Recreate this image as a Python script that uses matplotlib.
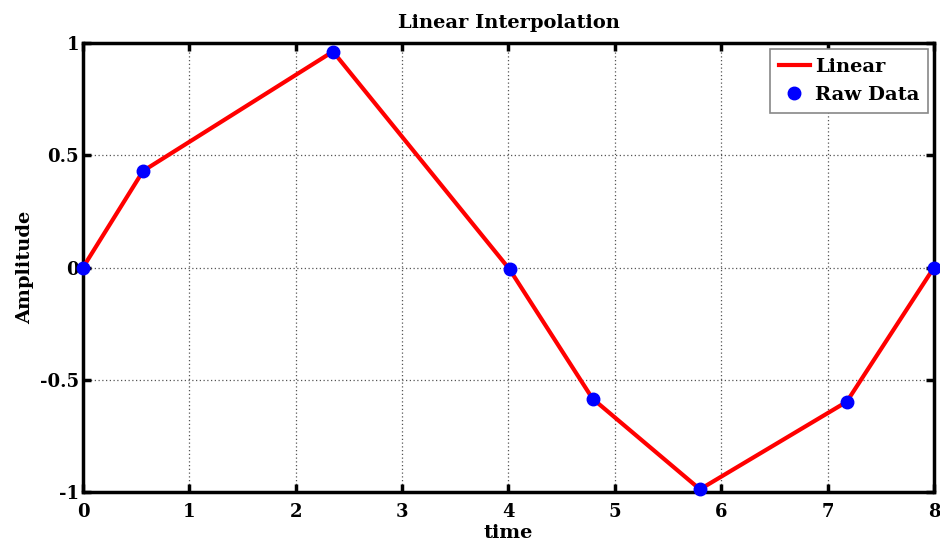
import matplotlib

matplotlib.use("Agg")
import matplotlib.pyplot as plt  # noqa: E402

# Sample points.
TIME = [0.0, 0.565, 2.35, 4.01, 4.79, 5.80, 7.18, 8.0]
AMPLITUDE = [0.0, 0.43, 0.962, -0.008, -0.584, -0.988, -0.598, 0.0]

X_TICKS = [0, 1, 2, 3, 4, 5, 6, 7, 8]
Y_TICKS = [-1, -0.5, 0, 0.5, 1]
Y_TICK_LABELS = ["-1", "-0.5", "0", "0.5", "1"]

plt.rcParams["font.family"] = ["DejaVu Serif"]
plt.rcParams["font.weight"] = "bold"

fig = plt.figure(figsize=(9.4, 5.49), dpi=100)
ax = fig.add_axes([0.0883, 0.1038, 0.9053, 0.8179])

ax.plot(TIME, AMPLITUDE, color="red", lw=3, label="Linear", zorder=3)
ax.plot(TIME, AMPLITUDE, "o", color="blue", ms=9, label="Raw Data",
        zorder=4, clip_on=False)

ax.set_xlim(0, 8)
ax.set_ylim(-1, 1)
ax.set_xticks(X_TICKS)
ax.set_yticks(Y_TICKS)
ax.set_yticklabels(Y_TICK_LABELS)
ax.tick_params(direction="in", length=6, width=2.5, labelsize=13,
               top=True, right=True)
ax.tick_params(axis="x", pad=8)
ax.tick_params(axis="y", pad=3)
for lbl in ax.get_xticklabels() + ax.get_yticklabels():
    lbl.set_fontweight("bold")
for s in ax.spines.values():
    s.set_linewidth(2.5)

ax.grid(True, linestyle=(0, (1, 2)), color="#555555", linewidth=0.9)
ax.set_axisbelow(True)

ax.set_title("Linear Interpolation", fontsize=14, fontweight="bold", pad=11)
ax.set_xlabel("time", fontsize=14, fontweight="bold", labelpad=2)
ax.set_ylabel("Amplitude", fontsize=14, fontweight="bold", labelpad=4)

leg = ax.legend(loc="upper right", fontsize=14, fancybox=False,
                framealpha=1, edgecolor="#888888", borderaxespad=0.3,
                handlelength=1.6, handletextpad=0.25, borderpad=0.45,
                labelspacing=0.55)
leg.get_frame().set_linewidth(1.2)
for t in leg.get_texts():
    t.set_fontweight("bold")

fig.savefig("out.png", dpi=100)
